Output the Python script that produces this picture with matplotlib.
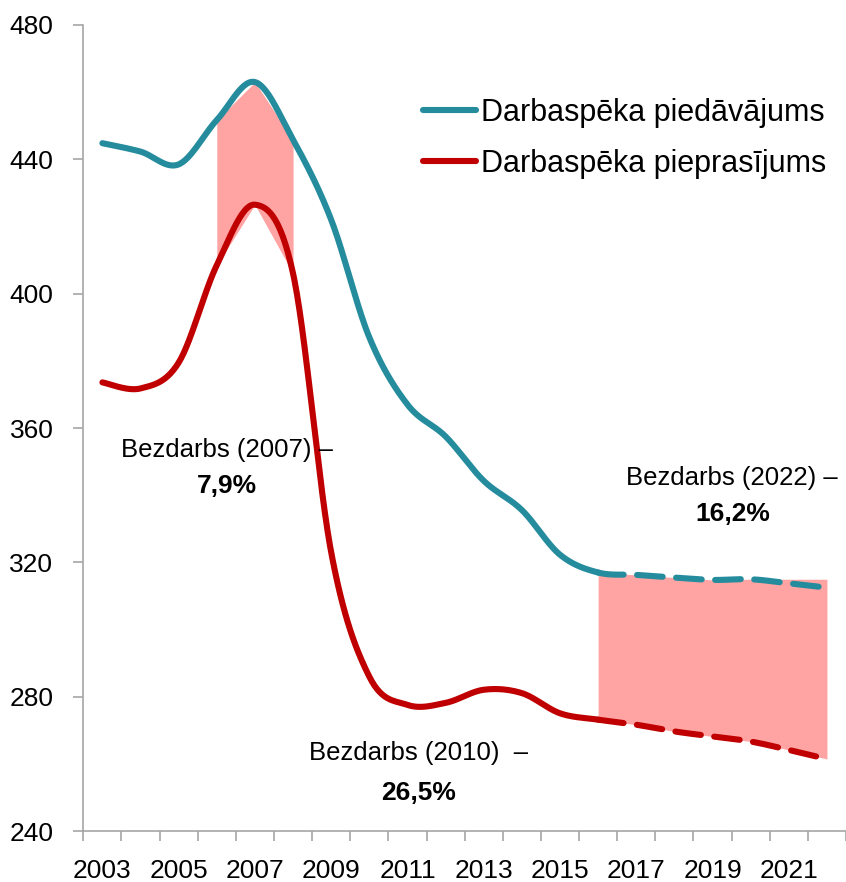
import numpy as np
import matplotlib.pyplot as plt

plt.rcParams["font.family"] = ["Liberation Sans", "DejaVu Sans"]

YEARS = list(range(2003, 2023))
SUPPLY = [444.8, 442.3, 438.5, 451.7, 463.0, 445.8, 422.0, 387.0, 367.0, 357.5,
          344.3, 335.6, 322.3, 317.0, 316.3, 315.5, 314.8, 315.0, 313.8, 312.5]
DEMAND = [373.6, 371.8, 379.5, 408.5, 426.5, 406.0, 323.0, 286.0, 277.6, 278.2,
          282.1, 281.1, 275.1, 273.2, 271.7, 269.7, 268.2, 266.7, 264.2, 261.5]
# shaded gaps (unemployment)
GAP1_YEARS = [2006, 2007, 2008]
GAP1_TOP = [451.7, 463.0, 445.8]
GAP1_BOTTOM = [408.5, 426.5, 406.0]
GAP2_YEARS = [2016, 2017, 2018, 2019, 2020, 2021, 2022]
GAP2_TOP = [317.0, 316.3, 315.5, 314.8, 315.0, 315.0, 315.0]
GAP2_BOTTOM = [273.2, 271.7, 269.7, 268.2, 266.7, 264.2, 261.5]
FORECAST_FROM = 2016

TEAL = "#248C9D"
RED = "#C00000"
FILL = "#FFA3A3"
AXIS = "#A6A6A6"


def smooth(x, y, n=30):
    # Catmull-Rom like the smoothed lines of a spreadsheet chart
    x = np.asarray(x, float)
    y = np.asarray(y, float)
    px = np.concatenate([[x[0]], x, [x[-1]]])
    py = np.concatenate([[y[0]], y, [y[-1]]])
    xs, ys = [], []
    t = np.linspace(0, 1, n, endpoint=False)
    for i in range(1, len(px) - 2):
        p0, p1, p2, p3 = px[i - 1], px[i], px[i + 1], px[i + 2]
        q0, q1, q2, q3 = py[i - 1], py[i], py[i + 1], py[i + 2]
        c1x, c1y = p1 + (p2 - p0) / 6, q1 + (q2 - q0) / 6
        c2x, c2y = p2 - (p3 - p1) / 6, q2 - (q3 - q1) / 6
        b = [(1 - t) ** 3, 3 * (1 - t) ** 2 * t, 3 * (1 - t) * t ** 2, t ** 3]
        xs.append(b[0] * p1 + b[1] * c1x + b[2] * c2x + b[3] * p2)
        ys.append(b[0] * q1 + b[1] * c1y + b[2] * c2y + b[3] * q2)
    xs.append([x[-1]])
    ys.append([y[-1]])
    return np.concatenate(xs), np.concatenate(ys)


fig = plt.figure(figsize=(8.46, 8.82), dpi=100)
ax = fig.add_axes([0.0985, 0.0576, 0.9015, 0.9141])

idx = np.arange(len(YEARS))
split = YEARS.index(FORECAST_FROM)

g1 = [YEARS.index(y) for y in GAP1_YEARS]
g2 = [YEARS.index(y) for y in GAP2_YEARS]
ax.fill_between(g1, GAP1_BOTTOM, GAP1_TOP, color=FILL, lw=0, zorder=1)
ax.fill_between(g2, GAP2_BOTTOM, GAP2_TOP, color=FILL, lw=0, zorder=1)

for vals, col, lab in [(SUPPLY, TEAL, "Darbaspēka piedāvājums"),
                       (DEMAND, RED, "Darbaspēka pieprasījums")]:
    sx, sy = smooth(idx, vals)
    solid = sx <= split
    ax.plot(sx[solid], sy[solid], color=col, lw=4.4, solid_capstyle="round",
            solid_joinstyle="round", zorder=3, label=lab)
    dash = sx >= split
    ax.plot(sx[dash], sy[dash], color=col, lw=4.4, dashes=(4.2, 2.2),
            dash_capstyle="round", zorder=3)

ax.set_xlim(-0.5, len(YEARS) - 0.5)
ax.set_ylim(240, 480)
ax.set_yticks(range(240, 481, 40))
ax.set_xticks(idx[::2], [str(y) for y in YEARS[::2]])
ax.set_xticks(np.arange(-0.5, len(YEARS)), minor=True)
ax.tick_params(axis="x", which="major", length=0, pad=20, labelsize=19)
ax.tick_params(axis="x", which="minor", length=7.5, width=1.2, color=AXIS)
ax.tick_params(axis="y", length=7.5, width=1.2, color=AXIS, pad=14, labelsize=19)

for s in ["top", "right"]:
    ax.spines[s].set_visible(False)
for s in ["left", "bottom"]:
    ax.spines[s].set_color(AXIS)
    ax.spines[s].set_linewidth(1.2)

leg = ax.legend(loc="upper left", bbox_to_anchor=(0.429, 0.925), frameon=False,
                fontsize=22, handlelength=1.75, handletextpad=0.15,
                labelspacing=0.7, borderaxespad=0)
for h in leg.get_lines():
    h.set_linewidth(4.4)
    h.set_solid_capstyle("round")

notes = [
    (3.26, 351.5, 340.7, "Bezdarbs (2007) –", "7,9%"),
    (8.3, 261.3, 249.4, "Bezdarbs (2010)  –", "26,5%"),
    (16.52, 343.2, 332.2, "Bezdarbs (2022) –", "16,2%"),
]
for x, y1, y2, t1, t2 in notes:
    ax.text(x, y1, t1, ha="center", va="baseline", fontsize=18.5, zorder=4)
    ax.text(x, y2, t2, ha="center", va="baseline", fontsize=19,
            fontweight="bold", zorder=4)

fig.savefig("out.png", dpi=100)
